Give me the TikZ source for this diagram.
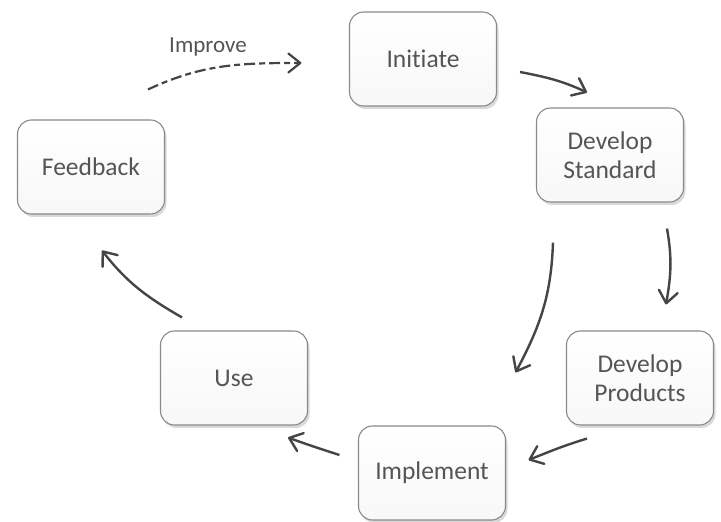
\documentclass[tikz,border=0pt]{standalone}
\usepackage{fontspec}
\setmainfont[Ligatures=NoCommon]{Carlito}
\usetikzlibrary{arrows.meta,shadows}
\definecolor{boxline}{HTML}{8A8A8A}
\definecolor{arrowgray}{HTML}{454545}
\definecolor{textgray}{HTML}{555555}

\begin{document}
\begin{tikzpicture}[
    x=1pt, y=1pt,
    box/.style={draw=boxline, line width=1.1pt, rectangle, rounded corners=14pt,
                minimum width=147pt, minimum height=94pt, align=center,
                top color=white, bottom color=gray!6, text=textgray,
                font=\fontsize{25.5}{29}\selectfont,
                drop shadow={shadow xshift=2pt, shadow yshift=-3pt, opacity=0.3}},
    label/.style={text=textgray, font=\fontsize{23}{27}\selectfont},
    arrow/.style={-{Straight Barb[length=12pt, width=19pt, round]},
                  line width=2.4pt, draw=arrowgray}
]
    \useasboundingbox (0,0) rectangle (721,522);

    % Initiate
    \node[box] (init) at (423,463) {Initiate};
    % Develop Standard
    \node[box] (devstd) at (610,367) {Develop\\Standard};
    % Develop Products
    \node[box] (devprod) at (640,144) {Develop\\Products};
    % Implement
    \node[box] (impl) at (432,49) {Implement};
    % Use
    \node[box] (use) at (234,144) {Use};
    % Feedback
    \node[box] (feed) at (91,355) {Feedback};
    % Label
    \node[label] (improve) at (208,475) {Improve};

    % Arrows
    \draw[arrow] ([shift={(23,-13)}]init.east) to[out=-11, in=155] ([shift={(-23,15)}]devstd.north);
    \draw[arrow] ([shift={(57,-26)}]devstd.south) to[out=-80, in=80] ([shift={(26,26)}]devprod.north);
    \draw[arrow] ([shift={(-57,-40)}]devstd.south) to[out=-92, in=62] ([shift={(9.5,53)}]impl.north east);
    \draw[arrow] ([shift={(-53,-13)}]devprod.south) to[out=197, in=22] ([shift={(22.5,13)}]impl.east);
    \draw[arrow] ([shift={(-18.5,18)}]impl.west) to[out=162, in=-20] ([shift={(54,-12)}]use.south);
    \draw[arrow] ([shift={(-52,13)}]use.north) to[out=150, in=-52] ([shift={(11,-36)}]feed.south);
    \draw[arrow, line width=2.2pt, dash pattern=on 11pt off 4pt on 6pt off 4pt]
        ([shift={(57,30)}]feed.north) to[out=25, in=180] ([shift={(-47.5,-4)}]init.west);
\end{tikzpicture}
\end{document}
